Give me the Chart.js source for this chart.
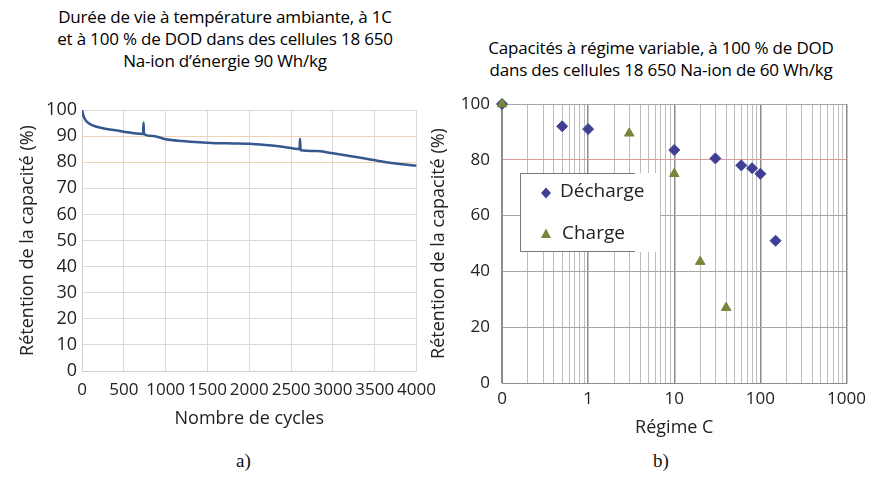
<!DOCTYPE html>
<html>
<head>
<meta charset="utf-8">
<script src="https://cdn.jsdelivr.net/npm/chart.js@4.4.1/dist/chart.umd.min.js"></script>
<style>
  body { margin: 0; background: #fff; font-family: "Open Sans", sans-serif; }
  #wrap { position: relative; width: 872px; height: 479px; overflow: hidden; background: #fff; }
  .title { position: absolute; text-align: center; font-size: 17px; line-height: 22px; color: #000; white-space: nowrap; letter-spacing: -0.2px; }
  .cap { position: absolute; font-family: "Liberation Serif", serif; font-size: 19px; color: #111; }
  canvas { position: absolute; }
</style>
</head>
<body>
<div id="wrap">
  <div class="title" style="left:0;width:450px;top:6px;">Durée de vie à température ambiante, à 1C<br>et à 100 % de DOD dans des cellules 18 650<br>Na-ion d’énergie 90 Wh/kg</div>
  <div class="title" style="left:450px;width:422px;top:37px;">Capacités à régime variable, à 100 % de DOD<br>dans des cellules 18 650 Na-ion de 60 Wh/kg</div>
  <div class="cap" style="left:236px;top:450px;">a)</div>
  <div class="cap" style="left:653px;top:450px;">b)</div>
  <canvas id="cycleChart" width="445" height="350" style="left:0;top:80px;"></canvas>
  <canvas id="rateChart" width="452" height="370" style="left:420px;top:80px;"></canvas>
</div>
<script>
// a) cycle life at 1C
const cycles = [0, 20, 50, 120, 250, 400, 600, 730, 736, 742, 850, 1000, 1200, 1400, 1600, 1800, 2000, 2200, 2400, 2600, 2607, 2614, 2800, 3000, 3200, 3400, 3600, 3800, 4000];
const retention = [100, 97.5, 95.8, 94.2, 93, 92.2, 91.2, 90.8, 95.2, 90.7, 90, 88.8, 88.1, 87.6, 87.3, 87.2, 87.1, 86.6, 85.9, 85, 89, 84.6, 84.3, 83.4, 82.4, 81.3, 80.2, 79.3, 78.6];
const cycleTicks = [0, 500, 1000, 1500, 2000, 2500, 3000, 3500, 4000];
const retentionTicks = [0, 10, 20, 30, 40, 50, 60, 70, 80, 90, 100];

// b) rate capability
const dischargeRate = [0.1, 0.5, 1, 10, 30, 60, 80, 100, 150];
const dischargeRet = [100, 92, 91, 83.5, 80.5, 78, 77, 75, 51];
const chargeRate = [0.1, 3, 10, 20, 40];
const chargeRet = [100, 89.5, 75, 43.5, 27];
const rateLabels = { '0.1': '0', '1': '1', '10': '10', '100': '100', '1000': '1000' };
const seriesNames = ['Décharge', 'Charge'];

const dischargeColor = '#3f3f94';
const chargeColor = '#76873a';
const tickFont = { family: 'Open Sans', size: 18 };
const titleFont = { family: 'Open Sans', size: 18 };

function toPoints(xs, ys) {
  return xs.map((x, i) => ({ x, y: ys[i] }));
}

// a)
new Chart(document.getElementById('cycleChart'), {
  type: 'scatter',
  data: {
    datasets: [{
      data: toPoints(cycles, retention),
      showLine: true,
      borderColor: '#34588f',
      borderWidth: 2.5,
      pointRadius: 0,
      cubicInterpolationMode: 'monotone'
    }]
  },
  options: {
    responsive: false,
    animation: false,
    layout: { padding: { left: 8, right: 28, top: 30, bottom: 0 } },
    plugins: { legend: { display: false }, tooltip: { enabled: false } },
    scales: {
      x: {
        type: 'linear',
        min: 0, max: 4000,
        afterBuildTicks: s => { s.ticks = cycleTicks.map(v => ({ value: v })); },
        afterFit: s => { s.height = 59; },
        grid: { color: '#d9d9d9', drawTicks: false },
        border: { color: '#d0d0d0' },
        ticks: {
          color: '#222', font: { family: 'Open Sans', size: 17 }, padding: 9, maxRotation: 0, autoSkip: false,
          callback: v => String(v)
        },
        title: { display: true, text: 'Nombre de cycles', color: '#222', font: titleFont, padding: 0 }
      },
      y: {
        min: 0, max: 100,
        afterBuildTicks: s => { s.ticks = retentionTicks.map(v => ({ value: v })); },
        afterFit: s => { s.width = 74; },
        grid: {
          drawTicks: false,
          color: c => (c.tick && (c.tick.value === 90 || c.tick.value === 80)) ? '#f0d2b4' : '#d9d9d9'
        },
        border: { color: '#d0d0d0' },
        ticks: { color: '#222', font: tickFont, padding: 5 },
        title: { display: true, text: 'Rétention de la capacité (%)', color: '#222', font: titleFont, padding: { top: 9, bottom: 0 } }
      }
    }
  }
});

// legend box drawn inside the plot area of b)
const boxLegend = {
  id: 'boxLegend',
  afterDraw(chart) {
    const { ctx, chartArea } = chart;
    const x0 = chartArea.left + 18, y0 = chartArea.top + 69, w = 140, h = 79;
    ctx.save();
    ctx.fillStyle = '#fff';
    ctx.fillRect(x0, y0, w, h);
    ctx.strokeStyle = '#777';
    ctx.lineWidth = 1;
    ctx.beginPath();
    ctx.moveTo(x0 + w - 25, y0 + 0.5);
    ctx.lineTo(x0 + 0.5, y0 + 0.5);
    ctx.lineTo(x0 + 0.5, y0 + h - 0.5);
    ctx.lineTo(x0 + w - 25, y0 + h - 0.5);
    ctx.stroke();
    const mx = x0 + 26;
    // diamond
    let my = y0 + 20;
    ctx.fillStyle = dischargeColor;
    ctx.beginPath();
    ctx.moveTo(mx, my - 5.5); ctx.lineTo(mx + 5, my); ctx.lineTo(mx, my + 5.5); ctx.lineTo(mx - 5, my);
    ctx.closePath(); ctx.fill();
    // triangle
    my = y0 + 61;
    ctx.fillStyle = chargeColor;
    ctx.beginPath();
    ctx.moveTo(mx, my - 5.5); ctx.lineTo(mx + 5, my + 4); ctx.lineTo(mx - 5, my + 4);
    ctx.closePath(); ctx.fill();
    ctx.fillStyle = '#222';
    ctx.font = '19px "Open Sans"';
    ctx.textBaseline = 'middle';
    ctx.fillText(seriesNames[0], x0 + 40, y0 + 19);
    ctx.fillText(seriesNames[1], x0 + 42, y0 + 61);
    ctx.restore();
  }
};

function logTickValues() {
  const vals = [];
  for (let e = -1; e <= 2; e++) {
    for (let m = 1; m <= 9; m++) vals.push(Number((m * Math.pow(10, e)).toPrecision(3)));
  }
  vals.push(1000);
  return vals;
}
const isDecade = v => rateLabels[String(v)] !== undefined;

new Chart(document.getElementById('rateChart'), {
  type: 'scatter',
  data: {
    datasets: [
      {
        label: seriesNames[1],
        data: toPoints(chargeRate, chargeRet),
        pointStyle: 'triangle',
        pointRadius: 5.5,
        backgroundColor: chargeColor,
        borderColor: chargeColor,
        clip: false
      },
      {
        label: seriesNames[0],
        data: toPoints(dischargeRate, dischargeRet),
        pointStyle: 'rectRot',
        pointRadius: 5.5,
        backgroundColor: dischargeColor,
        borderColor: dischargeColor,
        clip: false
      }
    ]
  },
  options: {
    responsive: false,
    animation: false,
    layout: { padding: { left: 6, right: 25, top: 24, bottom: 11 } },
    plugins: { legend: { display: false }, tooltip: { enabled: false } },
    scales: {
      x: {
        type: 'logarithmic',
        min: 0.1, max: 1000,
        afterBuildTicks: s => { s.ticks = logTickValues().map(v => ({ value: v })); },
        afterFit: s => { s.height = 56; },
        grid: {
          drawTicks: false,
          color: c => (c.tick && isDecade(c.tick.value)) ? '#8c8c8c' : '#bdbdbd',
          lineWidth: c => (c.tick && isDecade(c.tick.value)) ? 1.5 : 1
        },
        border: { color: '#8c8c8c' },
        ticks: {
          color: '#222', font: { family: 'Open Sans', size: 17 }, padding: 6, maxRotation: 0, autoSkip: false,
          callback: v => rateLabels[String(v)] || ''
        },
        title: { display: true, text: 'Régime C', color: '#222', font: titleFont, padding: 0 }
      },
      y: {
        min: 0, max: 100,
        ticks: { stepSize: 20, color: '#222', font: { family: 'Open Sans', size: 17 }, padding: 12 },
        afterFit: s => { s.width = 76; },
        grid: {
          drawTicks: false,
          color: c => (c.tick && c.tick.value === 80) ? '#d99a9a' : '#a6a6a6'
        },
        border: { color: '#8c8c8c' },
        title: { display: true, text: 'Rétention de la capacité (%)', color: '#222', font: titleFont, padding: { top: 2, bottom: 0 } }
      }
    }
  },
  plugins: [boxLegend]
});
</script>
</body>
</html>
